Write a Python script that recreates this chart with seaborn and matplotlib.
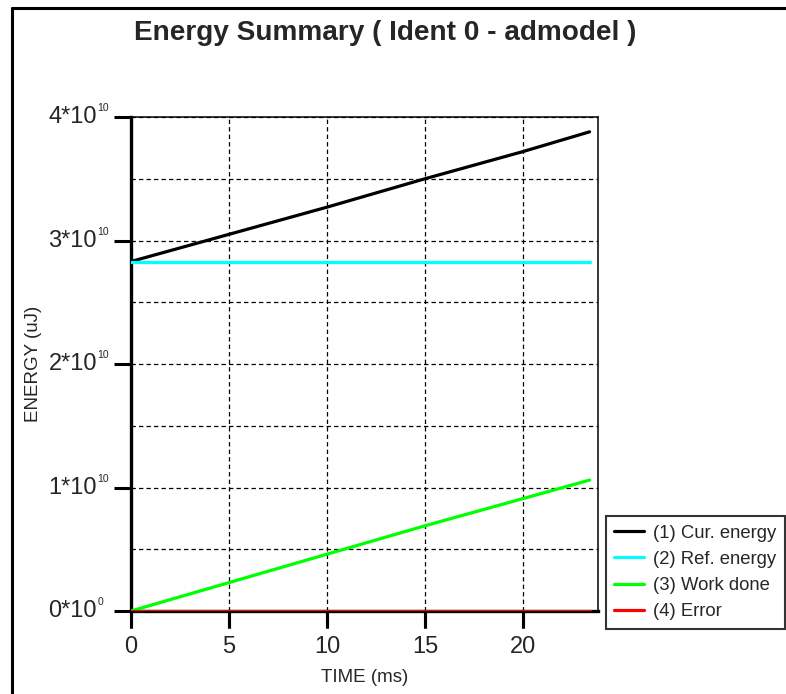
import numpy as np
import pandas as pd
import seaborn as sns
import matplotlib
matplotlib.use("Agg")
import matplotlib.pyplot as plt
from matplotlib.lines import Line2D
from matplotlib.markers import TICKDOWN
from matplotlib.ticker import MultipleLocator, FixedLocator, NullFormatter

# values (energy in uJ, time in ms)
time_ms = [0, 5, 10, 15, 20, 23.4]
cur_energy = [2.83e10, 3.05e10, 3.27e10, 3.50e10, 3.72e10, 3.88e10]
ref_energy = [2.83e10, 2.83e10, 2.83e10, 2.83e10, 2.83e10, 2.83e10]
work_done = [0.0, 0.23e10, 0.46e10, 0.69e10, 0.91e10, 1.06e10]
error = [0.0, 0.0, 0.0, 0.0, 0.0, 0.0]

series_names = ["(1) Cur. energy", "(2) Ref. energy", "(3) Work done", "(4) Error"]
series_colors = ["#000000", "#00FFFF", "#00FF00", "#FF0000"]
y_ticks = [0, 1e10, 2e10, 3e10, 4e10]
y_tick_base = ["0*10", "1*10", "2*10", "3*10", "4*10"]
y_tick_exp = ["0", "10", "10", "10", "10"]
x_ticks = [0, 5, 10, 15, 20]

sns.set_style("white")
plt.rcParams["font.family"] = ["Liberation Sans", "DejaVu Sans"]
plt.rcParams["xtick.bottom"] = True
plt.rcParams["ytick.left"] = True

rows = []
for name, vals in zip(series_names, [cur_energy, ref_energy, work_done, error]):
    for t, v in zip(time_ms, vals):
        rows.append({"time": t, "energy": v, "series": name})
df = pd.DataFrame(rows)

fig = plt.figure(figsize=(7.86, 6.94), dpi=100)
ax = fig.add_axes([0.1667, 0.1196, 0.5941, 0.7118])

sns.lineplot(data=df, x="time", y="energy", hue="series",
             palette=dict(zip(series_names, series_colors)),
             linewidth=2.3, ax=ax, legend=False, zorder=3)

ax.set_xlim(0, 23.83)
ax.set_ylim(0, 4e10)
ax.xaxis.set_major_locator(FixedLocator(x_ticks))
ax.set_xticklabels([str(x) for x in x_ticks])
ax.yaxis.set_major_locator(FixedLocator(y_ticks))
ax.yaxis.set_minor_locator(MultipleLocator(0.5e10))
ax.yaxis.set_major_formatter(NullFormatter())

ax.grid(True, which="both", color="black", linestyle=(0, (3.5, 2.5)), linewidth=0.9)
ax.tick_params(axis="y", which="minor", length=0, left=False)
ax.tick_params(axis="both", which="major", direction="out", length=12, width=2.2,
               labelsize=17, color="black", bottom=True, left=True)
ax.tick_params(axis="x", which="major", pad=6)

# heavy tick marks under the time axis, at the tick positions
ax.plot(x_ticks, np.zeros(len(x_ticks)), transform=ax.get_xaxis_transform(),
        linestyle="none", marker=TICKDOWN, markersize=12, markeredgewidth=2.2,
        color="black", clip_on=False, zorder=5)

# y tick labels as "n*10" with a small raised exponent
ytrans = ax.get_yaxis_transform()
for yv, base, ex in zip(y_ticks, y_tick_base, y_tick_exp):
    ax.annotate(base, xy=(0, yv), xycoords=ytrans, xytext=(-24.5, 0),
                textcoords="offset points", ha="right", va="center", fontsize=17)
    ax.annotate(ex, xy=(0, yv), xycoords=ytrans, xytext=(-24, 4),
                textcoords="offset points", ha="left", va="baseline", fontsize=7.5)

for side in ["left", "bottom"]:
    ax.spines[side].set_linewidth(2.4)
    ax.spines[side].set_color("black")
for side in ["top", "right"]:
    ax.spines[side].set_linewidth(1.1)
    ax.spines[side].set_color("black")

ax.set_xlabel("TIME (ms)", fontsize=13.5)
ax.xaxis.set_label_coords(0.5, -0.118)
ax.set_ylabel("ENERGY (uJ)", fontsize=13.5)
ax.yaxis.set_label_coords(-0.19, 0.5)

fig.text(0.49, 0.953, "Energy Summary ( Ident 0 - admodel )", ha="center", va="center",
         fontsize=20.2, fontweight="bold")

handles = [Line2D([0], [0], color=c, linewidth=2.3) for c in series_colors]
leg = ax.legend(handles, series_names, loc="upper left",
                bbox_to_anchor=(0.771, 0.256), bbox_transform=fig.transFigure,
                borderaxespad=0, fontsize=13.3, frameon=True, fancybox=False,
                handlelength=1.6, handletextpad=0.5, labelspacing=0.5,
                borderpad=0.45)
leg.get_frame().set_edgecolor("black")
leg.get_frame().set_linewidth(1.5)

# frame around the whole picture (left and top edges visible)
fig.add_artist(Line2D([0.0153, 0.0153], [0, 0.989], color="black", linewidth=2.2,
                      transform=fig.transFigure))
fig.add_artist(Line2D([0.0153, 1.0], [0.989, 0.989], color="black", linewidth=2.2,
                      transform=fig.transFigure))

fig.savefig("out.png", dpi=100)
